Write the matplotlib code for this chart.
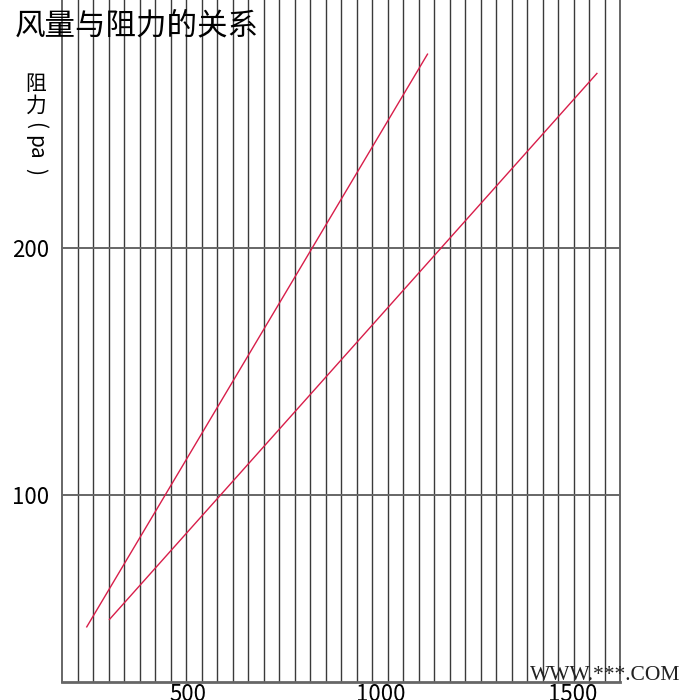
import numpy as np
import matplotlib
matplotlib.use('Agg')
import matplotlib.pyplot as plt

plt.rcParams['font.family'] = ['Noto Sans CJK SC', 'DejaVu Sans']

# 风量 vs 阻力, two filter lines
flow_a = [237, 1122]
resist_a = [46.7, 278.3]
flow_b = [296, 1562]
resist_b = [49.7, 270.5]

x_ticks = [500, 1000, 1500]
y_ticks = [100, 200]

xmin, xmax = 172.7, 1622
ymin, ymax = 24.4, 300.2

fig = plt.figure(figsize=(7, 7), dpi=100)
ax = fig.add_axes([62/700, 18/700, 558/700, 682/700])

ax.plot(flow_a, resist_a, color='#d81e4a', lw=1.0)
ax.plot(flow_b, resist_b, color='#d81e4a', lw=1.0)

ax.set_xlim(xmin, xmax)
ax.set_ylim(ymin, ymax)

# vertical grid lines, 36 equal intervals
ax.set_xticks(np.linspace(xmin, xmax, 37)[1:-1], minor=True)
ax.set_xticks(x_ticks)
ax.set_yticks(y_ticks)
ax.grid(which='minor', axis='x', color='#3a3a3a', lw=1.0)
ax.grid(which='major', axis='y', color='#666666', lw=1.4)
ax.tick_params(which='both', length=0)
ax.tick_params(axis='x', pad=1, labelsize=16)
ax.tick_params(axis='y', pad=9, labelsize=16)

for s in ['left', 'right']:
    ax.spines[s].set_color('#666666')
    ax.spines[s].set_linewidth(1.4)
ax.spines['bottom'].set_color('#666666')
ax.spines['bottom'].set_linewidth(2)
ax.spines['top'].set_visible(False)

fig.text(15/700, 1 - 26/700, '风量与阻力的关系', fontsize=22, ha='left', va='center')

# y label: CJK upright, (pa) turned
fig.text(36/700, 1 - 73/700, '阻\n力', fontsize=15, ha='center', va='top', linespacing=1.0)
fig.text(35/700, 1 - 125/700, '(', fontsize=15, ha='center', va='center', rotation=270)
fig.text(35/700, 1 - 147/700, 'pa', fontsize=15, ha='center', va='center', rotation=270)
fig.text(35/700, 1 - 172/700, ')', fontsize=15, ha='center', va='center', rotation=270)

fig.text(530/700, 1 - 675/700, 'WWW.***.COM', fontsize=15.5, ha='left', va='center',
         family='Liberation Serif', color='#222222')

fig.savefig('out.png', dpi=100)
